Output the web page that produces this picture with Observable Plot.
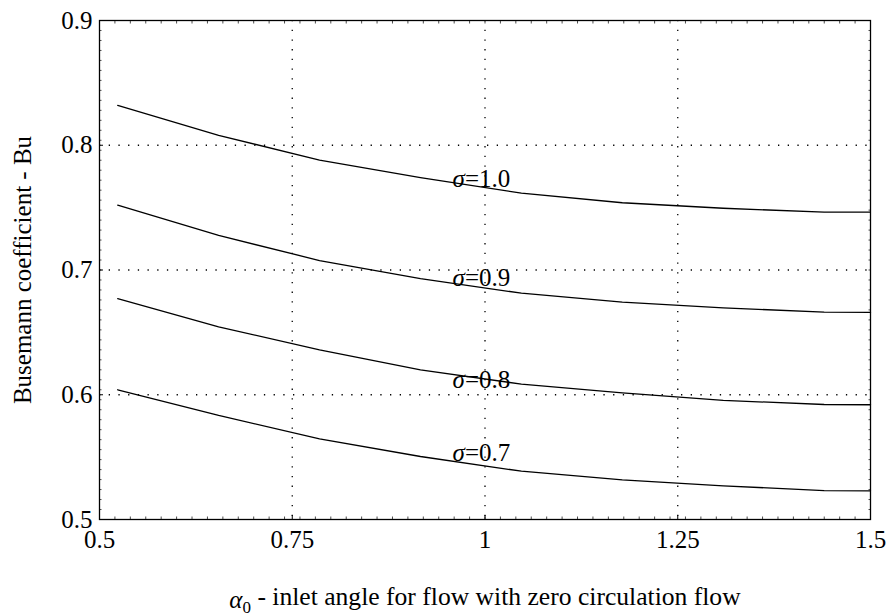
<!DOCTYPE html>
<html>
<head>
<meta charset="utf-8">
<script src="https://cdn.jsdelivr.net/npm/d3@7"></script>
<script src="https://cdn.jsdelivr.net/npm/@observablehq/plot@0.6"></script>
<style>
  html, body { margin: 0; padding: 0; background: #fff; }
  #chart svg, #chart svg text { font-family: "Liberation Serif", "DejaVu Serif", serif !important; }
</style>
</head>
<body>
<div id="chart"></div>
<script>
// inlet angle (rad)
const alpha0 = [0.5236, 0.6545, 0.7854, 0.9163, 1.0472, 1.1781, 1.3090, 1.4399, 1.5];
const bu10 = [0.832, 0.808, 0.788, 0.774, 0.7616, 0.7539, 0.7495, 0.7464, 0.7464];
const bu09 = [0.752, 0.7277, 0.7076, 0.6931, 0.6814, 0.6742, 0.6697, 0.6662, 0.6660];
const bu08 = [0.677, 0.6545, 0.636, 0.620, 0.6085, 0.6015, 0.5955, 0.5922, 0.592];
const bu07 = [0.604, 0.5834, 0.5647, 0.5505, 0.5387, 0.5318, 0.527, 0.5232, 0.523];
const seriesNames = ["σ=1.0", "σ=0.9", "σ=0.8", "σ=0.7"];
const labelX = [0.958, 0.958, 0.958, 0.958];
const labelY = [0.773, 0.6936, 0.612, 0.553];
const xTicks = [0.5, 0.75, 1, 1.25, 1.5];
const xTickLabels = ["0.5", "0.75", "1", "1.25", "1.5"];
const yTicks = [0.5, 0.6, 0.7, 0.8, 0.9];
const yTickLabels = ["0.5", "0.6", "0.7", "0.8", "0.9"];
const xGrid = [0.75, 1, 1.25];
const yGrid = [0.6, 0.7, 0.8];
const xMinor = d3.range(0, 51).map(i => 0.5 + i * 0.02);
const yMinor = d3.range(0, 51).map(i => 0.5 + i * 0.008);

const allSeries = [bu10, bu09, bu08, bu07];
const rows = [];
allSeries.forEach((s, k) => s.forEach((v, i) => rows.push({a: alpha0[i], bu: v, series: seriesNames[k]})));
const labels = seriesNames.map((n, k) => ({name: n, x: labelX[k], y: labelY[k]}));

const serif = "Liberation Serif";
const chart = Plot.plot({
  width: 888,
  height: 616,
  marginLeft: 99,
  marginRight: 18,
  marginTop: 20,
  marginBottom: 97,
  style: {fontFamily: serif, fontSize: "25px", background: "#fff", color: "#000"},
  x: {domain: [0.5, 1.5]},
  y: {domain: [0.5, 0.9]},
  marks: [
    Plot.ruleX(xGrid, {stroke: "#000", strokeWidth: 1.3, strokeDasharray: "1.3,8.4"}),
    Plot.ruleY(yGrid, {stroke: "#000", strokeWidth: 1.3, strokeDasharray: "1.3,8.4"}),
    Plot.axisY(yMinor, {anchor: "left", tickSize: -2.5, tickFormat: () => "", label: null, strokeOpacity: 0.7}),
    Plot.axisY(yMinor, {anchor: "right", tickSize: -2.5, tickFormat: () => "", label: null, strokeOpacity: 0.7}),
    Plot.axisX(xMinor, {anchor: "bottom", tickSize: -2.5, tickFormat: () => "", label: null, strokeOpacity: 0.7}),
    Plot.axisX(xMinor, {anchor: "top", tickSize: -2.5, tickFormat: () => "", label: null, strokeOpacity: 0.7}),
    Plot.axisY(yTicks, {anchor: "left", tickSize: -4, tickPadding: 11, fontFamily: serif, tickFormat: (d) => yTickLabels[yTicks.indexOf(d)],
      label: "Busemann coefficient - Bu", labelAnchor: "center", labelOffset: 86, labelArrow: "none"}),
    Plot.axisX(xTicks, {anchor: "bottom", tickSize: -4, tickPadding: 15, fontFamily: serif, tickFormat: d => xTickLabels[xTicks.indexOf(d)],
      label: "α0 - inlet angle for flow with zero circulation flow", labelAnchor: "center", labelOffset: 88, labelArrow: "none"}),
    Plot.frame({stroke: "#000", strokeWidth: 1.3}),
    Plot.line(rows, {x: "a", y: "bu", z: "series", stroke: "#000", strokeWidth: 1.3}),
    Plot.text(labels, {x: "x", y: "y", text: "name", textAnchor: "start", lineAnchor: "middle", fill: "#000", fontSize: 25, fontFamily: serif})
  ]
});

// italic Greek letters and subscript in real text
d3.select(chart).selectAll("text").each(function() {
  const t = d3.select(this);
  const tspans = t.selectAll("tspan");
  const nodes = tspans.empty() ? [this] : tspans.nodes();
  nodes.forEach(node => {
    const s = node.textContent;
    const el = d3.select(node);
    if (s.startsWith("σ=")) {
      el.text(null);
      el.append("tspan").attr("font-style", "italic").text("σ");
      el.append("tspan").text(s.slice(1));
    } else if (s.startsWith("α0")) {
      el.text(null);
      el.append("tspan").attr("font-style", "italic").text("α");
      el.append("tspan").attr("font-size", "17px").attr("dy", "0.3em").text("0");
      el.append("tspan").attr("dy", "-0.3em").attr("font-size", "25.6px").text(s.slice(2));
    }
  });
});

document.getElementById("chart").appendChild(chart);
</script>
</body>
</html>
